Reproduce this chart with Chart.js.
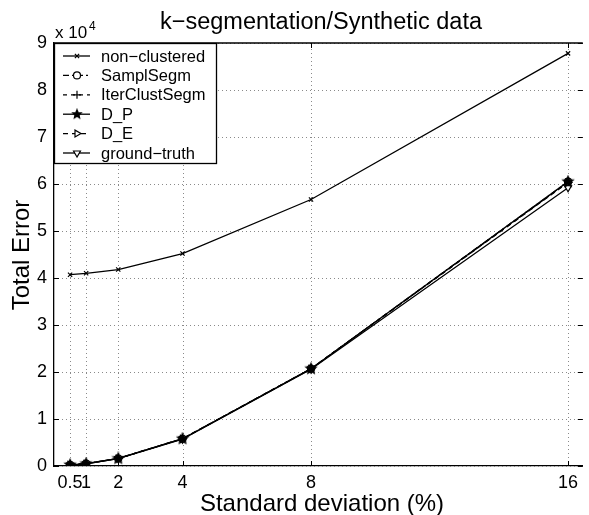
<!DOCTYPE html>
<html>
<head>
<meta charset="utf-8">
<script src="https://cdn.jsdelivr.net/npm/chart.js@4/dist/chart.umd.min.js"></script>
<style>
  html, body { margin: 0; padding: 0; background: #fff; }
  canvas { display: block; }
</style>
</head>
<body>
<canvas id="chart" width="589" height="515"></canvas>
<script>
const xValues = [0.5, 1, 2, 4, 8, 16];
const xTickLabels = ["0.5", "1", "2", "4", "8", "16"];
const seriesNames = ["non\u2212clustered", "SamplSegm", "IterClustSegm", "D_P", "D_E", "ground\u2212truth"];
const nonClustered = [40700, 41000, 41800, 45200, 56700, 87800];
const samplSegm = [250, 500, 1600, 5800, 20700, 60500];
const iterClustSegm = [250, 500, 1600, 5800, 20700, 60400];
const dP = [250, 500, 1600, 5800, 20700, 60500];
const dE = [250, 500, 1600, 5800, 20700, 60300];
const groundTruth = [200, 450, 1550, 5700, 20600, 59200];

const FONT = "'Liberation Sans', Arial, Helvetica, sans-serif";

function pts(vals) {
  return xValues.map((x, i) => ({ x: x, y: vals[i] }));
}

// filled pentagram marker like matlab's 'p'
function pentagram(r) {
  const c = document.createElement("canvas");
  const s = Math.ceil(2 * r + 4);
  c.width = s; c.height = s;
  const g = c.getContext("2d");
  g.beginPath();
  for (let k = 0; k < 10; k++) {
    const rad = k % 2 === 0 ? r : r * 0.45;
    const ang = -Math.PI / 2 + k * Math.PI / 5;
    const px = s / 2 + rad * Math.cos(ang), py = s / 2 + rad * Math.sin(ang);
    if (k === 0) g.moveTo(px, py); else g.lineTo(px, py);
  }
  g.closePath();
  g.fillStyle = "#000";
  g.fill();
  g.lineWidth = 1.6;
  g.strokeStyle = "#000";
  g.stroke();
  return c;
}

const styles = [
  { pointStyle: "crossRot", radius: 3, dash: [], rotation: 0, order: 1 },
  { pointStyle: "circle", radius: 3.5, dash: [6, 3, 2, 3], rotation: 0, order: 4 },
  { pointStyle: "cross", radius: 4, dash: [4, 4], rotation: 0, order: 3 },
  { pointStyle: pentagram(5), radius: 5, dash: [], rotation: 0, order: 0 },
  { pointStyle: "triangle", radius: 4, dash: [5, 4], rotation: 90, order: 2 },
  { pointStyle: "triangle", radius: 4, dash: [], rotation: 180, order: 5 },
];
const allSeries = [nonClustered, samplSegm, iterClustSegm, dP, dE, groundTruth];

const datasets = allSeries.map((vals, i) => ({
  label: seriesNames[i],
  data: pts(vals),
  order: styles[i].order,
  borderColor: "#000",
  backgroundColor: "#fff",
  borderWidth: 1.3,
  borderDash: styles[i].dash,
  pointStyle: styles[i].pointStyle,
  pointRadius: styles[i].radius,
  pointRotation: styles[i].rotation,
  pointBorderColor: "#000",
  pointBackgroundColor: "#fff",
  pointBorderWidth: 1.2,
  tension: 0,
}));

const decor = {
  id: "decor",
  beforeDatasetsDraw(chart) {
    // dotted grid
    const ctx = chart.ctx;
    const a = chart.chartArea;
    const xs = chart.scales.x, ys = chart.scales.y;
    ctx.save();
    ctx.strokeStyle = "#8a8a8a";
    ctx.lineWidth = 1;
    ctx.setLineDash([1, 3]);
    xValues.forEach((v) => {
      const px = Math.round(xs.getPixelForValue(v)) + 0.5;
      ctx.beginPath();
      ctx.moveTo(px, a.bottom); ctx.lineTo(px, a.top);
      ctx.stroke();
    });
    ys.ticks.forEach((t) => {
      const py = Math.round(ys.getPixelForValue(t.value)) + 0.5;
      ctx.beginPath();
      ctx.moveTo(a.left, py); ctx.lineTo(a.right, py);
      ctx.stroke();
    });
    ctx.restore();
  },
  afterDraw(chart) {
    const ctx = chart.ctx;
    const a = chart.chartArea;
    const xs = chart.scales.x, ys = chart.scales.y;
    ctx.save();
    ctx.strokeStyle = "#000";
    ctx.lineWidth = 1.3;
    ctx.setLineDash([]);
    // top border
    ctx.beginPath();
    ctx.moveTo(a.left, a.top);
    ctx.lineTo(a.right, a.top);
    ctx.stroke();
    // inward tick marks
    ctx.lineWidth = 1;
    xValues.forEach((v) => {
      const px = Math.round(xs.getPixelForValue(v)) + 0.5;
      ctx.beginPath();
      ctx.moveTo(px, a.bottom); ctx.lineTo(px, a.bottom - 5);
      ctx.moveTo(px, a.top); ctx.lineTo(px, a.top + 5);
      ctx.stroke();
    });
    ys.ticks.forEach((t) => {
      const py = Math.round(ys.getPixelForValue(t.value)) + 0.5;
      ctx.beginPath();
      ctx.moveTo(a.left, py); ctx.lineTo(a.left + 5, py);
      ctx.moveTo(a.right, py); ctx.lineTo(a.right - 5, py);
      ctx.stroke();
    });

    ctx.fillStyle = "#000";
    // title
    ctx.font = "23.5px " + FONT;
    ctx.textAlign = "center";
    ctx.textBaseline = "alphabetic";
    ctx.fillText("k\u2212segmentation/Synthetic data", 321, 29);
    // axis titles
    ctx.font = "24px " + FONT;
    ctx.fillText("Standard deviation (%)", 322, 511);
    ctx.save();
    ctx.translate(29, 255);
    ctx.rotate(-Math.PI / 2);
    ctx.fillText("Total Error", 0, 0);
    ctx.restore();
    // exponent label
    ctx.textAlign = "left";
    ctx.font = "17px " + FONT;
    ctx.fillText("x 10", a.left + 1, 38);
    ctx.font = "12px " + FONT;
    ctx.fillText("4", a.left + 35, 30);

    // legend
    const lx = a.left, ly = a.top, lw = 162, lh = 120;
    ctx.fillStyle = "#fff";
    ctx.fillRect(lx, ly, lw, lh);
    ctx.strokeStyle = "#000";
    ctx.lineWidth = 1.3;
    ctx.strokeRect(lx + 0.5, ly + 0.5, lw, lh);
    ctx.font = "16.5px " + FONT;
    ctx.textBaseline = "middle";
    chart.data.datasets.forEach((ds, i) => {
      const y = ly + 13 + i * 19.4;
      ctx.strokeStyle = "#000";
      ctx.lineWidth = 1.3;
      ctx.setLineDash(ds.borderDash);
      ctx.beginPath();
      ctx.moveTo(lx + 9, y);
      ctx.lineTo(lx + 36, y);
      ctx.stroke();
      ctx.setLineDash([]);
      ctx.fillStyle = ds.pointBackgroundColor;
      ctx.lineWidth = ds.pointBorderWidth;
      Chart.helpers.drawPoint(ctx, {
        pointStyle: i === 3 ? pentagram(4) : ds.pointStyle,
        rotation: ds.pointRotation,
        radius: ds.pointRadius,
        borderWidth: ds.pointBorderWidth,
      }, lx + 23, y);
      ctx.fillStyle = "#000";
      ctx.fillText(ds.label, lx + 47, y + 1);
    });
    ctx.restore();
  },
};

new Chart(document.getElementById("chart"), {
  type: "line",
  data: { datasets },
  plugins: [decor],
  options: {
    responsive: false,
    animation: false,
    devicePixelRatio: 1,
    layout: { padding: { top: 43, right: 0, left: 0, bottom: 0 } },
    plugins: { legend: { display: false }, tooltip: { enabled: false } },
    scales: {
      x: {
        type: "linear",
        min: 0,
        max: 16.46,
        afterBuildTicks: (scale) => {
          scale.ticks = xValues.map((v) => ({ value: v }));
        },
        afterFit: (scale) => { scale.height = 49; },
        ticks: {
          autoSkip: false,
          maxRotation: 0,
          padding: 6,
          color: "#000",
          font: { family: FONT, size: 18 },
          callback: (v) => xTickLabels[xValues.indexOf(v)],
        },
        grid: { drawOnChartArea: false, drawTicks: false },
        border: { display: true, color: "#000", width: 1.3 },
      },
      y: {
        min: 0,
        max: 90000,
        afterFit: (scale) => { scale.width = 54; },
        ticks: {
          stepSize: 10000,
          padding: 7,
          color: "#000",
          font: { family: FONT, size: 18 },
          callback: (v) => String(v / 10000),
        },
        grid: { drawOnChartArea: false, drawTicks: false },
        border: { display: true, color: "#000", width: 1.3 },
      },
    },
  },
});
</script>
</body>
</html>
